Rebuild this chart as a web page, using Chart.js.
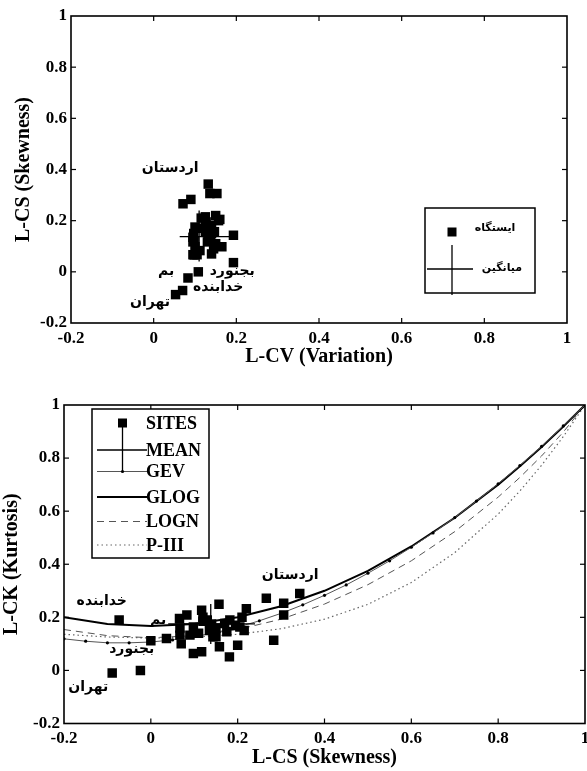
<!DOCTYPE html>
<html><head><meta charset="utf-8">
<script src="https://cdn.jsdelivr.net/npm/chart.js@4"></script>
<style>
html,body{margin:0;padding:0;background:#fff;overflow:hidden;width:587px;height:771px}
#c1{position:absolute;left:0;top:0}
#c2{position:absolute;left:0;top:385px}
</style></head><body>
<canvas id="c1" width="600" height="385"></canvas>
<canvas id="c2" width="600" height="386"></canvas>
<script>
// ---------- DATA ----------
// Site L-moment ratios (one entry per station)
const siteLCV = [0.132,0.153,0.136,0.090,0.071,0.193,0.193,0.108,0.083,0.070,0.053,
  0.150,0.157,0.160,0.140,0.125,0.147,0.125,0.130,0.095,0.100,0.112,0.098,0.095,0.105,
  0.145,0.165,0.132,0.135,0.118,0.100,0.140,0.095,0.138,0.127,0.097,0.140,0.115,0.125,0.098,0.150];
const siteLCS = [0.343,0.306,0.306,0.283,0.266,0.143,0.036,0.000,-0.024,-0.073,-0.089,
  0.220,0.200,0.205,0.182,0.181,0.157,0.158,0.117,0.117,0.098,0.083,0.066,0.067,0.067,
  0.090,0.098,0.130,0.140,0.170,0.175,0.150,0.135,0.120,0.195,0.150,0.070,0.210,0.215,0.120,0.110];
const siteLCK = [0.290,0.253,0.209,0.114,0.272,0.127,0.120,0.112,0.000,0.190,-0.010,
  0.232,0.095,0.164,0.190,0.051,0.249,0.089,0.227,0.070,0.064,0.209,0.196,0.133,0.160,
  0.133,0.164,0.190,0.175,0.177,0.146,0.127,0.150,0.200,0.170,0.160,0.100,0.200,0.150,0.185,0.140];

// Regional mean cross (centre and arm ranges)
const meanLCV = 0.110;
const meanLCS = 0.138;
const meanLCK = 0.175;
const armLCV = [0.063, 0.185];
const armLCS = [0.040, 0.240];
const armLCK = [0.100, 0.250];

// Theoretical L-moment ratio curves (L-CS -> L-CK)
const curveLCS = [-0.2,-0.1,0,0.1,0.2,0.3,0.4,0.5,0.6,0.7,0.8,0.85,0.9,0.95,1.0];
const gloLCK   = [0.200,0.175,0.167,0.175,0.200,0.242,0.300,0.375,0.467,0.575,0.700,0.769,0.842,0.919,1.000];
const lnLCK    = [0.154,0.131,0.123,0.131,0.154,0.193,0.250,0.323,0.413,0.523,0.653,0.727,0.808,0.898,1.000];
const pe3LCK   = [0.136,0.126,0.122,0.126,0.136,0.157,0.193,0.249,0.331,0.444,0.589,0.676,0.773,0.881,1.000];
const gevLCS   = [-0.2,-0.15,-0.1,-0.05,0,0.05,0.1,0.15,0.2,0.25,0.3,0.35,0.4,0.45,0.5,0.55,0.6,0.65,0.7,0.75,0.8,0.85,0.9,0.95,1.0];
const gevLCK   = [0.119,0.110,0.104,0.104,0.107,0.115,0.127,0.143,0.163,0.187,0.215,0.247,0.283,0.322,0.366,0.413,0.464,0.518,0.576,0.638,0.703,0.772,0.844,0.921,1.000];

// Axis ticks
const axisTicks = [-0.2,0,0.2,0.4,0.6,0.8,1];

// Station name labels
const topLabelNames = ['اردستان','بجنورد','بم','خدابنده','تهران'];
const topLabelLCV   = [0.040, 0.190, 0.030, 0.156, -0.009];
const topLabelLCS   = [0.403, 0.002, 0.002, -0.062, -0.118];
const botLabelNames = ['اردستان','خدابنده','بم','بجنورد','تهران'];
const botLabelLCS   = [0.321, -0.113, 0.017, -0.044, -0.144];
const botLabelLCK   = [0.357, 0.259, 0.190, 0.079, -0.062];

// Legend texts
const topLegend = ['ایستگاه','میانگین'];
const botLegend = ['SITES','MEAN','GEV','GLOG','LOGN','P-III'];

// ---------- HELPERS ----------
const zip = (xs, ys) => xs.map((v,i)=>({x:v, y:ys[i]}));
const SERIF = '"Liberation Serif", "Times New Roman", serif';
const PERS = '"DejaVu Sans", sans-serif';

function line(ctx,x1,y1,x2,y2){ctx.beginPath();ctx.moveTo(x1,y1);ctx.lineTo(x2,y2);ctx.stroke();}

const framePlugin = {
  id:'frame',
  afterDraw(chart){
    const {ctx, chartArea:ca, scales:{x,y}} = chart;
    ctx.save();
    ctx.strokeStyle='#000';
    ctx.lineWidth=1.2;
    axisTicks.forEach(v=>{
      const px=x.getPixelForValue(v);
      if (px>ca.left+1 && px<ca.right-1){ line(ctx,px,ca.bottom,px,ca.bottom-5); line(ctx,px,ca.top,px,ca.top+5); }
      const py=y.getPixelForValue(v);
      if (py>ca.top+1 && py<ca.bottom-1){ line(ctx,ca.left,py,ca.left+5,py); line(ctx,ca.right,py,ca.right-5,py); }
    });
    ctx.lineWidth=1.6;
    ctx.strokeRect(ca.left, ca.top, ca.right-ca.left, ca.bottom-ca.top);
    ctx.restore();
  }
};

function labelPlugin(names, xs, ys){
  return {
    id:'names',
    afterDatasetsDraw(chart){
      const {ctx, scales:{x,y}} = chart;
      ctx.save();
      ctx.fillStyle='#000';
      ctx.font='bold 14px '+PERS;
      ctx.textAlign='center';
      ctx.textBaseline='middle';
      names.forEach((n,i)=>ctx.fillText(n, x.getPixelForValue(xs[i]), y.getPixelForValue(ys[i])));
      ctx.restore();
    }
  };
}

function scaleOpts(title, yAxis, titlePad, tickPad){
  return {
    type:'linear', min:-0.2, max:1,
    afterBuildTicks(s){ s.ticks = axisTicks.map(v=>({value:v})); },
    ticks:{ color:'#000', padding:tickPad, font:{family:SERIF, size:17, weight:'bold'},
      callback:v=>String(Math.round(v*10)/10) },
    grid:{display:false, drawTicks:false, tickLength:0},
    border:{display:false},
    title:{display:true, text:title, color:'#000', padding:titlePad,
      font:{family:SERIF, size:20, weight:'bold'}}
  };
}

// ---------- TOP CHART ----------
const topLegendPlugin = {
  id:'topLegend',
  afterDraw(chart){
    const {ctx, chartArea:ca} = chart;
    const bx = ca.right-142, by = ca.top+192;
    ctx.save();
    ctx.fillStyle='#fff'; ctx.fillRect(bx,by,110,85);
    ctx.strokeStyle='#000'; ctx.lineWidth=1.5; ctx.strokeRect(bx,by,110,85);
    ctx.fillStyle='#000';
    ctx.fillRect(bx+22.5, by+19.5, 9, 9);
    ctx.lineWidth=1.3;
    line(ctx, bx+2, by+61, bx+48, by+61);
    line(ctx, bx+27, by+37, bx+27, by+87);
    ctx.font='bold 11px '+PERS; ctx.textAlign='center'; ctx.textBaseline='middle';
    ctx.fillText(topLegend[0], bx+70, by+20);
    ctx.fillText(topLegend[1], bx+77, by+60);
    ctx.restore();
  }
};

new Chart(document.getElementById('c1'), {
  type:'scatter',
  data:{datasets:[
    {data:[{x:armLCV[0],y:meanLCS},{x:armLCV[1],y:meanLCS}], showLine:true, borderColor:'#000', borderWidth:1.3, pointRadius:0},
    {data:[{x:meanLCV,y:armLCS[0]},{x:meanLCV,y:armLCS[1]}], showLine:true, borderColor:'#000', borderWidth:1.3, pointRadius:0},
    {data:zip(siteLCV, siteLCS), pointStyle:'rect', pointRadius:6.7, backgroundColor:'#000', borderColor:'#000', borderWidth:0}
  ]},
  options:{
    responsive:false, animation:false, devicePixelRatio:1,
    layout:{padding:{left:0, top:16, right:33, bottom:16}},
    plugins:{legend:{display:false}, tooltip:{enabled:false}},
    scales:{
      x:Object.assign(scaleOpts('L-CV (Variation)', false, 0, 5), {afterFit(s){s.height=46;}}),
      y:Object.assign(scaleOpts('L-CS (Skewness)', true, {top:12,bottom:0}, 4), {afterFit(s){s.width=71;}})
    }
  },
  plugins:[framePlugin, labelPlugin(topLabelNames, topLabelLCV, topLabelLCS), topLegendPlugin]
});

// ---------- BOTTOM CHART ----------
const botLegendPlugin = {
  id:'botLegend',
  afterDraw(chart){
    const {ctx, chartArea:ca} = chart;
    const bx = ca.left+28, by = ca.top+4, bw=117, bh=149;
    ctx.save();
    ctx.fillStyle='#fff'; ctx.fillRect(bx,by,bw,bh);
    ctx.strokeStyle='#000'; ctx.lineWidth=1.5; ctx.strokeRect(bx,by,bw,bh);
    const rows=[14,41,62.5,88,112.5,136];
    const lx1=bx+5, lx2=bx+55, mx=bx+30.5;
    // SITES marker
    ctx.fillStyle='#000'; ctx.fillRect(mx-4.5, by+rows[0]-4.5, 9, 9);
    // MEAN cross
    ctx.lineWidth=1.3; ctx.strokeStyle='#000';
    line(ctx,lx1,by+rows[1],lx2,by+rows[1]);
    line(ctx,mx,by+rows[0],mx,by+rows[2]);
    // GEV
    ctx.strokeStyle='#555'; ctx.lineWidth=1;
    line(ctx,lx1,by+rows[2],lx2,by+rows[2]);
    ctx.fillStyle='#000'; ctx.beginPath(); ctx.arc(mx,by+rows[2],1.6,0,Math.PI*2); ctx.fill();
    // GLOG
    ctx.strokeStyle='#000'; ctx.lineWidth=2;
    line(ctx,lx1,by+rows[3],lx2,by+rows[3]);
    // LOGN
    ctx.strokeStyle='#555'; ctx.lineWidth=1; ctx.setLineDash([7,5]);
    line(ctx,lx1,by+rows[4],lx2,by+rows[4]);
    // P-III
    ctx.strokeStyle='#666'; ctx.lineWidth=1.2; ctx.setLineDash([1.5,3]);
    line(ctx,lx1,by+rows[5],lx2,by+rows[5]);
    ctx.setLineDash([]);
    ctx.fillStyle='#000'; ctx.font='bold 18px '+SERIF; ctx.textAlign='left'; ctx.textBaseline='middle';
    botLegend.forEach((t,i)=>ctx.fillText(t, bx+54, by+rows[i]+1));
    ctx.restore();
  }
};

new Chart(document.getElementById('c2'), {
  type:'scatter',
  data:{datasets:[
    {data:[{x:armLCS[0],y:meanLCK},{x:armLCS[1],y:meanLCK}], showLine:true, borderColor:'#000', borderWidth:1.3, pointRadius:0},
    {data:[{x:meanLCS,y:armLCK[0]},{x:meanLCS,y:armLCK[1]}], showLine:true, borderColor:'#000', borderWidth:1.3, pointRadius:0},
    {data:zip(siteLCS, siteLCK), pointStyle:'rect', pointRadius:6.7, backgroundColor:'#000', borderColor:'#000', borderWidth:0},
    {data:zip(gevLCS, gevLCK), showLine:true, borderColor:'#555', borderWidth:1, pointRadius:1.6, pointBackgroundColor:'#000', pointBorderWidth:0},
    {data:zip(curveLCS, gloLCK), showLine:true, borderColor:'#000', borderWidth:2, pointRadius:0},
    {data:zip(curveLCS, lnLCK), showLine:true, borderColor:'#555', borderWidth:1, borderDash:[7,5], pointRadius:0},
    {data:zip(curveLCS, pe3LCK), showLine:true, borderColor:'#666', borderWidth:1.2, borderDash:[1.5,3], pointRadius:0}
  ]},
  options:{
    responsive:false, animation:false, devicePixelRatio:1,
    layout:{padding:{left:0, top:20, right:15, bottom:1}},
    plugins:{legend:{display:false}, tooltip:{enabled:false}},
    scales:{
      x:Object.assign(scaleOpts('L-CS (Skewness)', false, 0, 5), {afterFit(s){s.height=46.5;}}),
      y:Object.assign(scaleOpts('L-CK (Kurtosis)', true, 0, 4), {afterFit(s){s.width=64;}})
    }
  },
  plugins:[framePlugin, labelPlugin(botLabelNames, botLabelLCS, botLabelLCK), botLegendPlugin]
});
</script>
</body></html>
